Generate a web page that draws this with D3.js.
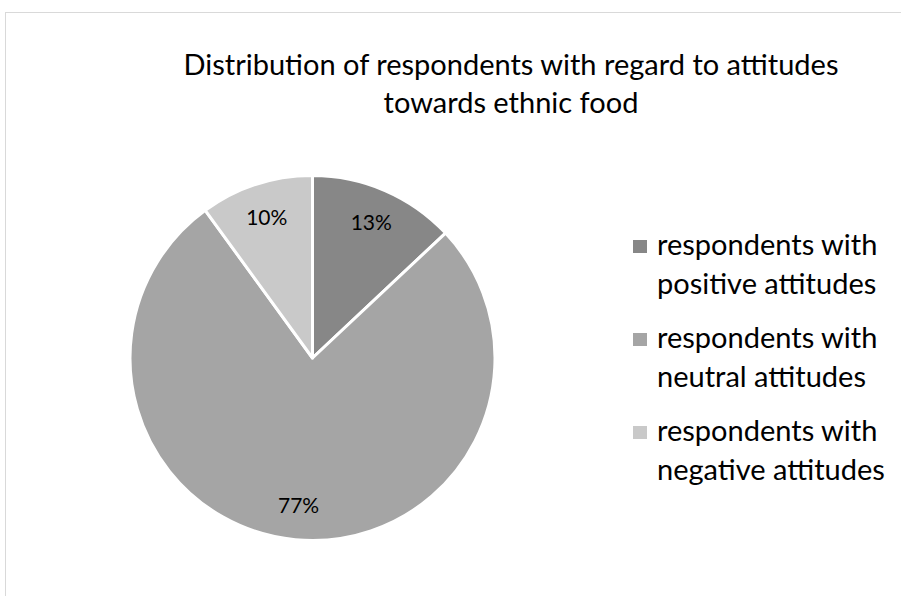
<!DOCTYPE html>
<html><head><meta charset="utf-8">
<script src="https://cdn.jsdelivr.net/npm/d3@7"></script>
<style>body{margin:0;background:#fff}svg{display:block}</style>
</head><body>
<script>
const categories = ["respondents with positive attitudes","respondents with neutral attitudes","respondents with negative attitudes"];
const legendLines = [["respondents with","positive attitudes"],["respondents with","neutral attitudes"],["respondents with","negative attitudes"]];
const values = [13, 77, 10];
const colors = ["#878787", "#a5a5a5", "#c9c9c9"];
const titleLines = ["Distribution of respondents with regard to attitudes","towards ethnic food"];

const W = 901, H = 596;
const font = "Lato, 'Open Sans', sans-serif";
const svg = d3.select("body").append("svg").attr("width", W).attr("height", H);
svg.append("rect").attr("x",5.5).attr("y",12.5).attr("width",W).attr("height",H).attr("fill","#fff").attr("stroke","#d9d9d9");

svg.append("g").selectAll("text").data(titleLines).join("text")
  .attr("x", 511).attr("y",(d,i)=>75+i*38).attr("text-anchor","middle")
  .attr("font-family",font).attr("font-size",29).attr("fill","#000").text(d=>d);

const cx = 312.5, cy = 358, r = 182.5;
const pie = d3.pie().sort(null).value(d=>d);
const arcs = pie(values);
const arc = d3.arc().innerRadius(0).outerRadius(r);
const labelArc = d3.arc().innerRadius(148).outerRadius(148);
const g = svg.append("g").attr("transform",`translate(${cx},${cy})`);
g.selectAll("path").data(arcs).join("path").attr("d",arc)
  .attr("fill",(d,i)=>colors[i]).attr("stroke","#fff").attr("stroke-width",3).attr("stroke-linejoin","round");
const total = d3.sum(values);
g.selectAll("text").data(arcs).join("text")
  .attr("transform",d=>`translate(${labelArc.centroid(d)})`)
  .attr("text-anchor","middle").attr("dy","0.35em")
  .attr("font-family",font).attr("font-size",21).attr("fill","#000")
  .text(d=>Math.round(d.data/total*100)+"%");

const lg = svg.append("g");
const item = lg.selectAll("g").data(categories).join("g")
  .attr("transform",(d,i)=>`translate(633,${240+i*93})`);
item.append("rect").attr("width",14).attr("height",13).attr("fill",(d,i)=>colors[i]);
item.each(function(d,i){
  d3.select(this).selectAll("text").data(legendLines[i]).join("text")
    .attr("x",24).attr("y",(t,j)=>15+j*39)
    .attr("font-family",font).attr("font-size",29).attr("fill","#000").text(t=>t);
});
</script>
</body></html>
